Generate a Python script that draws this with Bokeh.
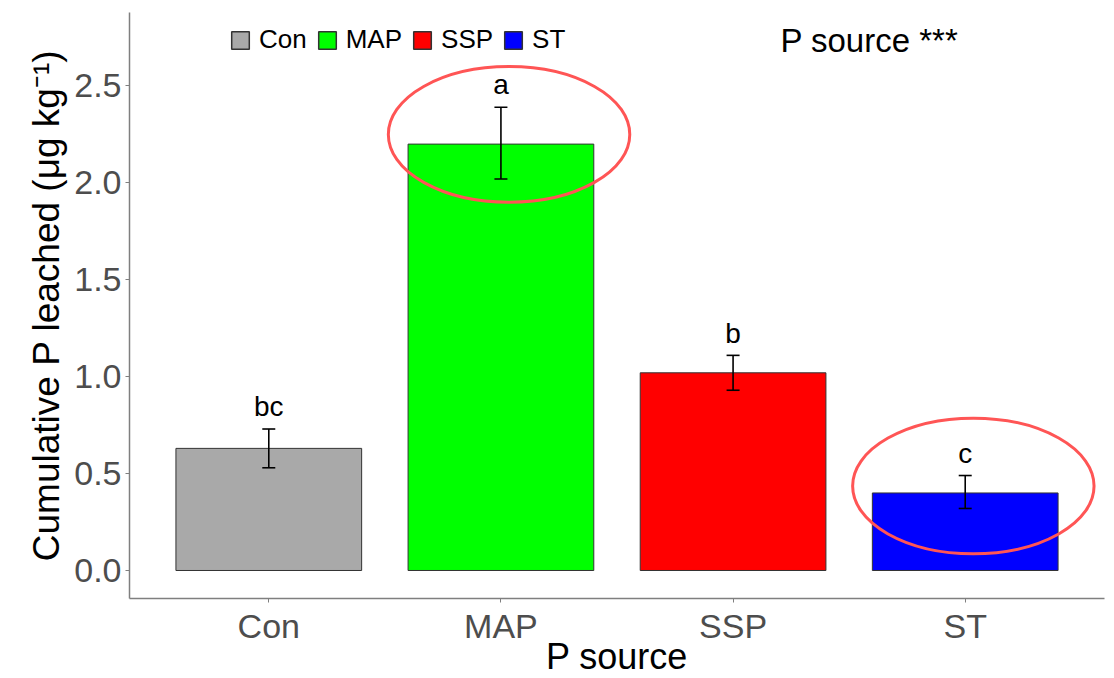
from bokeh.plotting import figure
from bokeh.models import (Range1d, FixedTicker, Legend, LegendItem, Label,
                          ColumnDataSource, NumeralTickFormatter)
from bokeh.embed import file_html
from bokeh.resources import INLINE

# ---- data ----
categories = ["Con", "MAP", "SSP", "ST"]
means = [0.63, 2.20, 1.02, 0.40]
lower = [0.53, 2.02, 0.93, 0.32]
upper = [0.73, 2.39, 1.11, 0.49]
letters = ["bc", "a", "b", "c"]
colors = ["#A9A9A9", "#00FF00", "#FF0000", "#0000FF"]
y_ticks = [0.0, 0.5, 1.0, 1.5, 2.0, 2.5]
# highlight ellipses (annotation): category, centre height
highlighted = ["MAP", "ST"]
highlight_y = [2.25, 0.436]

FONT = "Liberation Sans"
pos = [i + 1 for i in range(len(categories))]

p = figure(frame_width=975, frame_height=586,
           x_range=Range1d(0.4, 4.6), y_range=Range1d(-0.1445, 2.879),
           output_backend="svg", toolbar_location=None,
           min_border_left=129, min_border_right=2,
           min_border_top=12, min_border_bottom=80,
           background_fill_color="white", border_fill_color="white")
p.outline_line_color = None
p.grid.visible = False

src = ColumnDataSource(dict(x=pos, top=means, lo=lower, hi=upper,
                            cat=categories, col=colors, lab=letters))
p.vbar(x="x", top="top", bottom=0, width=0.8, source=src,
       fill_color="col", line_color="#333333", line_width=1)

# error bars
p.segment(x0="x", x1="x", y0="lo", y1="hi", source=src, line_color="black", line_width=1.6)
cap = 0.028
p.segment(x0=[x - cap for x in pos], x1=[x + cap for x in pos], y0=upper, y1=upper,
          line_color="black", line_width=1.6)
p.segment(x0=[x - cap for x in pos], x1=[x + cap for x in pos], y0=lower, y1=lower,
          line_color="black", line_width=1.6)

# letters
p.text(x=pos, y=[u + 0.035 for u in upper], text=letters,
       text_align="center", text_baseline="bottom",
       text_font_size="28px", text_color="black",
       text_font={"value": FONT})

# highlight ellipses
for c, yc in zip(highlighted, highlight_y):
    i = categories.index(c)
    p.ellipse(x=pos[i] + 0.035, y=yc, width=1.04, height=0.70,
              fill_color=None, line_color="#FF5555", line_width=3)

# axes
for ax in (p.xaxis, p.yaxis):
    ax.axis_line_color = "#7F7F7F"
    ax.axis_line_width = 1.5
    ax.major_tick_line_color = "#7F7F7F"
    ax.major_tick_out = 4
    ax.major_tick_in = 0
    ax.minor_tick_line_color = None
    ax.major_label_text_color = "#4D4D4D"
    ax.major_label_text_font = FONT
    ax.major_label_text_font_size = "34px"
    ax.axis_label_text_font = FONT
    ax.axis_label_text_font_size = "37px"
    ax.axis_label_text_font_style = "normal"
    ax.axis_label_text_color = "black"

p.xaxis.ticker = FixedTicker(ticks=pos)
p.xaxis.major_label_overrides = {x: c for x, c in zip(pos, categories)}
p.xaxis.axis_label = "P source"
p.xaxis.axis_label_text_font_size = "36px"
p.xaxis.major_label_standoff = 4
p.xaxis.axis_label_standoff = -12

p.yaxis.ticker = FixedTicker(ticks=y_ticks)
p.yaxis.formatter = NumeralTickFormatter(format="0.0")
p.yaxis.axis_label = "Cumulative P leached (\u03bcg kg\u207b\u00b9)"
p.yaxis.major_label_standoff = 4
p.yaxis.axis_label_standoff = 4

# legend
items = []
for i, c in enumerate(categories):
    r = p.rect(x=[pos[i]], y=[-10], width=0.1, height=0.1,
               fill_color=colors[i], line_color="#333333", line_width=1.5)
    items.append(LegendItem(label=c, renderers=[r]))
legend = Legend(items=items, orientation="horizontal", location=(100, 543),
                glyph_width=22, glyph_height=22, label_standoff=8, spacing=9,
                padding=0, margin=0, border_line_color=None,
                background_fill_alpha=0,
                label_text_font=FONT, label_text_font_size="26px",
                label_text_color="black")
p.add_layout(legend)

p.add_layout(Label(x=3.204, y=2.735, text="P source ***", text_font=FONT,
                   text_font_size="33px", text_color="black",
                   text_baseline="middle", text_align="left"))

open("out.html", "w").write(file_html(p, INLINE))
